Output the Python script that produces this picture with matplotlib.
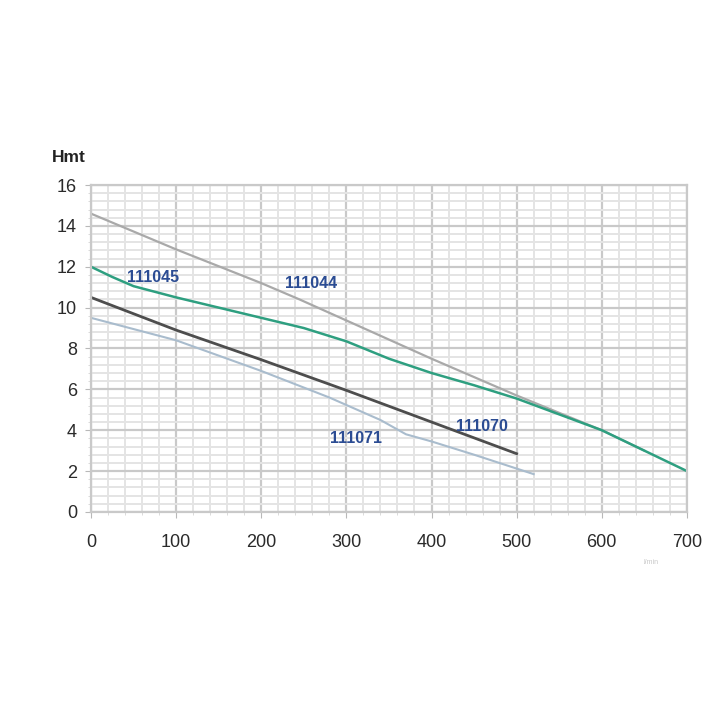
import matplotlib
matplotlib.use("Agg")
import matplotlib.pyplot as plt
import numpy as np

# Data
q_111044 = [0, 100, 200, 245, 400, 500, 600, 650]
h_111044 = [14.6, 12.85, 11.2, 10.4, 7.5, 5.7, 4.0, 3.0]

q_111045 = [0, 25, 50, 100, 200, 250, 300, 350, 400, 450, 500, 600, 700]
h_111045 = [12.0, 11.5, 11.05, 10.5, 9.5, 9.0, 8.35, 7.5, 6.8, 6.2, 5.55, 4.0, 2.0]

q_111070 = [0, 100, 200, 300, 400, 500]
h_111070 = [10.5, 8.9, 7.45, 5.95, 4.4, 2.85]

q_111071 = [0, 100, 200, 280, 340, 370, 400, 450, 520]
h_111071 = [9.5, 8.4, 6.9, 5.6, 4.5, 3.8, 3.45, 2.8, 1.85]

x_ticks = [0, 100, 200, 300, 400, 500, 600, 700]
y_ticks = [0, 2, 4, 6, 8, 10, 12, 14, 16]

plt.rcParams['font.family'] = ['Liberation Sans', 'DejaVu Sans']

fig = plt.figure(figsize=(7.2, 7.2), dpi=100)
ax = fig.add_axes([0.1264, 0.289, 0.8276, 0.454])
ax.set_xlim(0, 700)
ax.set_ylim(0, 16)

# grid
ax.set_xticks(x_ticks)
ax.set_yticks(y_ticks)
ax.set_xticks(np.arange(0, 701, 20), minor=True)
ax.set_yticks(np.arange(0, 16.01, 0.4), minor=True)
ax.grid(which='minor', color='#e4e4e4', linewidth=1.4)
ax.grid(which='major', color='#c9c9c9', linewidth=1.6)
ax.set_axisbelow(True)
for s in ax.spines.values():
    s.set_color('#c9c9c9')
    s.set_linewidth(1.6)

ax.tick_params(which='major', length=4, color='#b8b8b8', labelsize=13,
               labelcolor='#2a2a2a', pad=6)
ax.tick_params(which='minor', length=2, color='#d4d4d4')
ax.tick_params(axis='x', pad=12)

lab_color = '#2b4c93'
ax.plot(q_111044, h_111044, color='#a9a9a9', lw=1.6)
ax.plot(q_111071, h_111071, color='#a9bccd', lw=1.5)
ax.plot(q_111070, h_111070, color='#4d4d4d', lw=2.0)
ax.plot(q_111045, h_111045, color='#2e9f80', lw=1.8)

ax.text(42, 11.47, '111045', color=lab_color, fontsize=11.5, fontweight='bold', va='center')
ax.text(228, 11.2, '111044', color=lab_color, fontsize=11.5, fontweight='bold', va='center')
ax.text(429, 4.2, '111070', color=lab_color, fontsize=11.5, fontweight='bold', va='center')
ax.text(281, 3.58, '111071', color=lab_color, fontsize=11.5, fontweight='bold', va='center')

fig.text(52 / 720, 1 - 157 / 720, 'Hmt', fontsize=12.5, fontweight='bold',
         color='#222222', va='center', ha='left')
fig.text(643 / 720, 1 - 563 / 720, 'l/min', fontsize=5, color='#c8c8c8',
         va='center', ha='left')

fig.savefig('out.png', dpi=100)
